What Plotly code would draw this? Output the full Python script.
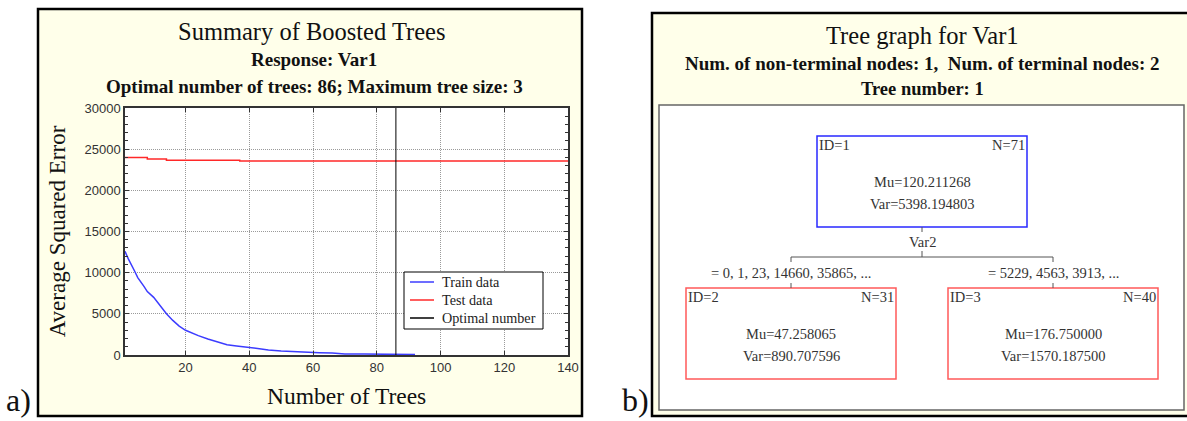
import plotly.graph_objects as go

W, H = 1187, 421

# ---- panel a data ----
train_x = [1, 2, 4, 5, 7, 8, 10, 12, 14, 16, 18, 20, 22, 24, 27, 30, 33, 36, 40, 43, 46, 50, 54, 58, 62, 66, 70, 76, 82, 88, 92]
train_y = [12600, 11700, 10200, 9400, 8300, 7700, 7000, 6000, 5000, 4200, 3500, 3000, 2650, 2350, 1950, 1600, 1250, 1100, 900, 750, 620, 500, 400, 320, 280, 230, 130, 110, 90, 70, 60]
test_x = [1, 8, 14, 37, 140]
test_y = [23980, 23820, 23660, 23550, 23550]
optimal_trees = 86
y_ticks = [0, 5000, 10000, 15000, 20000, 25000, 30000]
x_ticks = [20, 40, 60, 80, 100, 120, 140]

# ---- panel b data ----
node_ids = [1, 2, 3]
node_n = [71, 31, 40]
node_mu = ["120.211268", "47.258065", "176.750000"]
node_var = ["5398.194803", "890.707596", "1570.187500"]
split_var = "Var2"
split_left = "= 0, 1, 23, 14660, 35865, ..."
split_right = "= 5229, 4563, 3913, ..."

CREAM = "#FFFFEA"
SERIF = "Liberation Serif"
BLUE = "rgb(60,60,255)"
RED = "rgb(255,40,40)"


def px(x):
    return x / W


def py(y):
    return 1 - y / H


fig = go.Figure()

fig.add_trace(go.Scatter(x=train_x, y=train_y, mode="lines", name="Train data",
                         line=dict(color=BLUE, width=1.5)))
fig.add_trace(go.Scatter(x=test_x, y=test_y, mode="lines", name="Test data",
                         line=dict(color=RED, width=1.5, shape="hv")))
fig.add_trace(go.Scatter(x=[optimal_trees, optimal_trees], y=[0, 30000], mode="lines",
                         name="Optimal number", line=dict(color="black", width=1)))

shapes = []
ann = []

# panel a frame
shapes.append(dict(type="rect", xref="paper", yref="paper", x0=px(38), x1=px(582), y0=py(416), y1=py(9),
                   fillcolor=CREAM, line=dict(color="black", width=2.5), layer="below"))
shapes.append(dict(type="rect", xref="x domain", yref="y domain", x0=0, x1=1, y0=0, y1=1,
                   fillcolor="white", line=dict(width=0), layer="below"))

# panel b frame
shapes.append(dict(type="rect", xref="paper", yref="paper", x0=px(652), x1=px(1192), y0=py(416), y1=py(13),
                   fillcolor=CREAM, line=dict(color="black", width=2.5), layer="below"))
shapes.append(dict(type="rect", xref="paper", yref="paper", x0=px(659), x1=px(1184), y0=py(410), y1=py(105),
                   fillcolor="white", line=dict(color="#666", width=1.5), layer="below"))


def t(x, y, text, size, bold=False, anchor="center", color="#111", font=SERIF, angle=0):
    ann.append(dict(x=px(x), y=py(y), xref="paper", yref="paper", text=f"<b>{text}</b>" if bold else text,
                    showarrow=False, xanchor=anchor, yanchor="middle", textangle=angle,
                    font=dict(family=font, size=size, color=color)))


# panel a titles
t(311, 31, "Summary of Boosted Trees", 24.5)
t(314, 59, "Response: Var1", 19, bold=True)
t(314, 86, "Optimal number of trees: 86; Maximum tree size: 3", 19, bold=True)
t(346, 396, "Number of Trees", 23.5)
t(19, 400, "a)", 32)
t(635, 400, "b)", 32)

# legend box of panel a, entries taken from the traces
shapes.append(dict(type="rect", xref="paper", yref="paper", x0=px(404), x1=px(543), y0=py(329), y1=py(272),
                   fillcolor="white", line=dict(color="black", width=1)))
for i, tr in enumerate(fig.data):
    yy = 282 + 18 * i
    shapes.append(dict(type="line", xref="paper", yref="paper", x0=px(410), x1=px(434), y0=py(yy), y1=py(yy),
                       line=dict(color=tr.line.color, width=1.5)))
    t(440, yy, tr.name, 14.2, anchor="left", color="#222")

# panel b titles
t(922, 35, "Tree graph for Var1", 24.5)
t(922, 63, "Num. of non-terminal nodes: 1,  Num. of terminal nodes: 2", 19, bold=True)
t(922, 89, "Tree number: 1", 18.5, bold=True)

# tree nodes: (left, right, top, bottom, colour)
boxes = [(817, 1027, 136, 227, "rgb(40,40,255)"),
         (686, 896, 288, 379, "rgb(255,90,90)"),
         (948, 1158, 288, 379, "rgb(255,90,90)")]
NF = 14.5
for (l, r, tp, b, c), nid, n, mu, var in zip(boxes, node_ids, node_n, node_mu, node_var):
    shapes.append(dict(type="rect", xref="paper", yref="paper", x0=px(l), x1=px(r), y0=py(b), y1=py(tp),
                       line=dict(color=c, width=1.5)))
    cx = (l + r) / 2
    t(l, tp + 9, f"ID={nid}", NF, anchor="left", color="#333")
    t(r, tp + 9, f"N={n}", NF, anchor="right", color="#333")
    t(cx, tp + 46, f"Mu={mu}", NF, color="#333")
    t(cx, tp + 68, f"Var={var}", NF, color="#333")

# connectors
lc = dict(color="#555", width=1)
for x0, y0, x1, y1 in [(922, 227, 922, 232), (922, 251, 922, 257), (791, 257, 1053, 257),
                       (791, 257, 791, 262), (1053, 257, 1053, 262), (791, 283, 791, 288), (1053, 283, 1053, 288)]:
    shapes.append(dict(type="line", xref="paper", yref="paper", x0=px(x0), x1=px(x1), y0=py(y0), y1=py(y1), line=lc))
t(922, 242, split_var, NF, color="#333")
t(791, 273, split_left, NF, color="#333")
t(1053, 273, split_right, NF, color="#333")

axis_common = dict(showline=True, linecolor="#333", linewidth=1.5, mirror="ticks", ticks="inside",
                   ticklen=4, tickcolor="#333", showgrid=True, gridcolor="#9a9a9a", griddash="1px,1px",
                   gridwidth=1, zeroline=False, automargin=False,
                   tickfont=dict(family="Liberation Sans", size=13, color="#333"))

fig.update_layout(
    width=W, height=H,
    margin=dict(l=0, r=0, t=0, b=0),
    template="none",
    paper_bgcolor="white",
    plot_bgcolor="white",
    showlegend=False,
    xaxis=dict(domain=[px(125), px(568)], range=[1, 140], tickvals=x_ticks,
               ticktext=[str(v) for v in x_ticks], **axis_common),
    yaxis=dict(domain=[py(355), py(108)], range=[0, 30000], tickvals=y_ticks,
               ticktext=[str(v) for v in y_ticks],
               title=dict(text="Average Squared Error", font=dict(family=SERIF, size=23, color="#111"),
                          standoff=12),
               minor=dict(ticks="inside", dtick=1000, ticklen=3, tickcolor="#333", showgrid=False),
               **axis_common),
    shapes=shapes,
    annotations=ann,
)

fig.write_html("out.html", config={"displayModeBar": False, "responsive": False},
               post_script="document.body.style.margin='0px';")
